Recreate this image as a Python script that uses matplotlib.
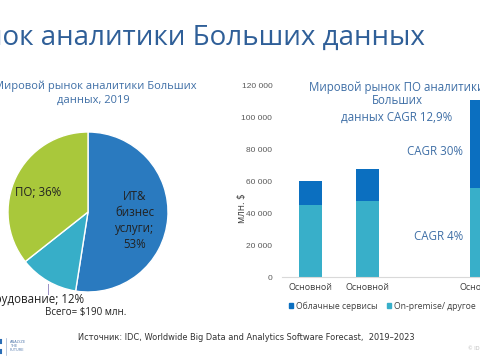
import numpy as np
import matplotlib.pyplot as plt
from matplotlib.patches import Patch
from matplotlib.lines import Line2D

# --- data ---
pie_labels = ["ИТ&\nбизнес\nуслуги;\n53%", "Оборудование; 12%", "ПО; 36%"]
pie_values = [53, 12, 36]
pie_colors = ["#2a7abf", "#37aec8", "#a9c83b"]

bar_pos = [0, 1, 3]
bar_ticks = ["Основной", "Основной", "Основной"]
onprem = [45500, 47800, 55800]
cloud = [14900, 19900, 55100]
cloud_color = "#0b6fc0"
onprem_color = "#38afc9"

W, H = 480, 360
fig = plt.figure(figsize=(4.8, 3.6), dpi=100)
fig.patch.set_facecolor("white")

FONT = "Open Sans"
BLUE_TXT = "#3f6fa6"


def px(x, y):
    return x / W, 1 - y / H


def ftext(x, y, s, **kw):
    kw.setdefault("family", FONT)
    fig.text(*px(x, y), s, **kw)


# main title (cut off at the left edge like the slide crop)
ftext(425, 45, "Рынок аналитики Больших данных", ha="right", va="baseline",
      fontsize=20, color="#2f5f98")

# --- pie ---
ax1 = fig.add_axes([8 / W, 1 - 292 / H, 160 / W, 160 / H])
ax1.pie(pie_values, colors=pie_colors, startangle=90, counterclock=False,
        wedgeprops=dict(edgecolor="white", linewidth=1))
ax1.set_xlim(-1, 1)
ax1.set_ylim(-1, 1)
ax1.set_aspect("equal")
ax1.axis("off")

ftext(95, 86, "Мировой рынок аналитики Больших", ha="center", va="center",
      fontsize=8, color=BLUE_TXT)
ftext(93, 100, "данных, 2019", ha="center", va="center",
      fontsize=8, color=BLUE_TXT)

ftext(135, 220, pie_labels[0], ha="center", va="center", fontsize=8.3,
      color="#222222", linespacing=1.3)
ftext(84, 299, pie_labels[1], ha="right", va="center", fontsize=8.3,
      color="#222222")
ftext(38, 192, pie_labels[2], ha="center", va="center", fontsize=8.3,
      color="#222222")
ftext(86, 312, "Всего= $190 млн.", ha="center", va="center", fontsize=7,
      color="#222222")
fig.add_artist(Line2D([48 / W, 48 / W], [1 - 284 / H, 1 - 294 / H],
                      color="#9a8fc4", lw=0.7))

# --- stacked bars ---
ax2 = fig.add_axes([282 / W, 1 - 277 / H, 228 / W, 191 / H])
ax2.bar(bar_pos, onprem, width=0.4, color=onprem_color,
        label="On-premise/ другое")
ax2.bar(bar_pos, cloud, width=0.4, bottom=onprem, color=cloud_color,
        label="Облачные сервисы")
ax2.set_xlim(-0.5, 3.5)
ax2.set_ylim(0, 120000)
ax2.set_yticks(np.arange(0, 120001, 20000))
ax2.set_yticklabels([f"{v:,}".replace(",", " ") for v in range(0, 120001, 20000)],
                    family="Liberation Sans", fontsize=6, color="#595959")
ax2.set_xticks(bar_pos)
ax2.set_xticklabels(bar_ticks, family=FONT, fontsize=6.5, color="#404040")
ax2.tick_params(length=0)
ax2.tick_params(axis="y", pad=7)
ax2.tick_params(axis="x", pad=4)
for s in ["top", "right", "left"]:
    ax2.spines[s].set_visible(False)
ax2.spines["bottom"].set_color("#d9d9d9")
ax2.spines["bottom"].set_linewidth(0.8)

ftext(242, 208, "млн. $", rotation=90, ha="center", va="center",
      fontsize=7, color="#404040")

ftext(397, 87, "Мировой рынок ПО аналитики", ha="center", va="center",
      fontsize=8.3, color=BLUE_TXT)
ftext(397, 101, "Больших", ha="center", va="center",
      fontsize=8.3, color=BLUE_TXT)
ftext(397, 117, "данных CAGR 12,9%", ha="center", va="center",
      fontsize=8.3, color=BLUE_TXT)
ftext(463, 151, "CAGR 30%", ha="right", va="center", fontsize=8.3,
      color=BLUE_TXT)
ftext(463, 237, "CAGR 4%", ha="right", va="center", fontsize=8.3,
      color=BLUE_TXT)

handles = [Patch(color=cloud_color), Patch(color=onprem_color)]
fig.legend(handles, ["Облачные сервисы", "On-premise/ другое"],
           loc="center left", bbox_to_anchor=px(289, 306), ncol=2,
           frameon=False, handlelength=0.5, handleheight=0.5,
           handletextpad=0.3, columnspacing=1.1, borderpad=0, borderaxespad=0,
           prop=dict(family=FONT, size=6.2), labelcolor="#404040")

# --- footer ---
fig.text(*px(78, 337), "Источник: IDC, Worldwide Big Data and Analytics Software Forecast,  2019–2023",
         ha="left", va="center", family="DejaVu Sans", fontsize=5.95,
         color="#333333")
fig.text(*px(10, 346), "ANALYZE\nTHE\nFUTURE", ha="left", va="center",
         family="DejaVu Sans", fontsize=2.6, color="#5a7fb0", linespacing=1.1)
fig.add_artist(Line2D([6 / W, 6 / W], [1 - 338 / H, 1 - 355 / H],
                      color="#9bb2d0", lw=0.5))
fig.add_artist(Line2D([1 / W, 1 / W], [1 - 340 / H, 1 - 343 / H],
                      color="#2a6db5", lw=1.5))
fig.add_artist(Line2D([1 / W, 1 / W], [1 - 350 / H, 1 - 353 / H],
                      color="#2a6db5", lw=1.5))
fig.text(*px(468, 349), "© IDC", ha="left", va="center",
         family="DejaVu Sans", fontsize=3.5, color="#bbbbbb")

fig.savefig("out.png", dpi=100)
